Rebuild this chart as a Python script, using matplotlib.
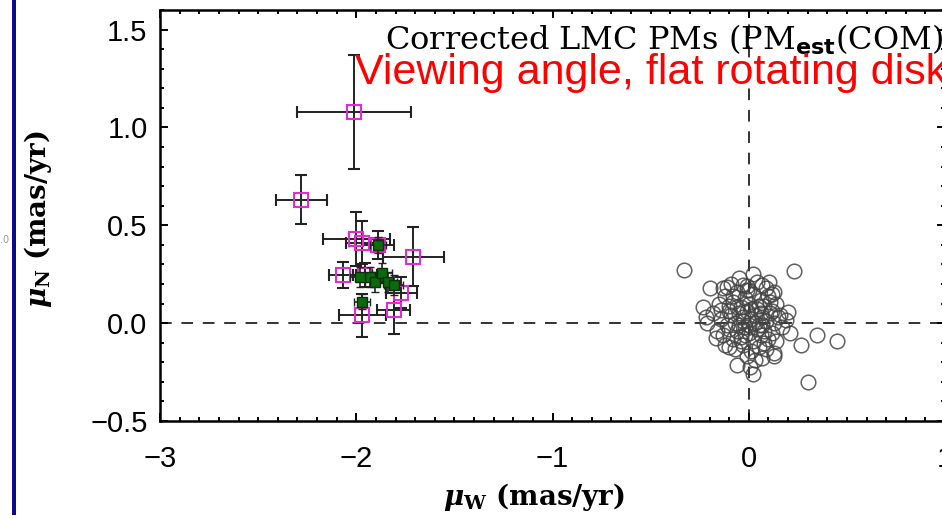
import matplotlib
matplotlib.use("Agg")
import matplotlib.pyplot as plt
from matplotlib.patches import Rectangle
from matplotlib.ticker import MultipleLocator

# Magenta squares: individual field PMs with errors (mas/yr)
fld_mw = [-2.01, -2.28, -2.00, -1.97, -1.89, -1.71, -2.07, -1.955, -1.77, -1.81, -1.97]
fld_mn = [1.08, 0.63, 0.43, 0.41, 0.40, 0.34, 0.245, 0.245, 0.155, 0.065, 0.04]
fld_emw = [0.29, 0.13, 0.17, 0.08, 0.08, 0.155, 0.07, 0.06, 0.08, 0.085, 0.12]
fld_emn = [0.29, 0.125, 0.14, 0.11, 0.07, 0.15, 0.065, 0.06, 0.08, 0.12, 0.11]

# Green squares: second set of fields
grn_mw = [-1.93, -1.905, -1.87, -1.84, -1.81, -1.97, -1.89, -1.98]
grn_mn = [0.235, 0.21, 0.255, 0.21, 0.195, 0.11, 0.40, 0.235]
grn_emw = [0.05, 0.05, 0.05, 0.05, 0.05, 0.04, 0.04, 0.05]
grn_emn = [0.05, 0.05, 0.05, 0.05, 0.05, 0.04, 0.04, 0.05]

# Open circles: viewing-angle residuals of the flat rotating disk model
disk_mw = [
    -0.33, 0.23, -0.20, -0.11, 0.45, 0.35, 0.265, 0.30, -0.06, 0.02, 0.005, 0.13, 0.07,
    -0.235, -0.22, -0.215, -0.165, -0.10, 0.20, 0.19, 0.21, 0.105, 0.07, -0.03, -0.01,
    0.12, -0.14, 0.13,
    -0.15, -0.12, -0.10, -0.08, -0.06, -0.04, -0.02, 0.00, 0.02, 0.04, 0.06, 0.08, 0.10,
    0.12, 0.14, 0.16,
    -0.18, -0.14, -0.11, -0.09, -0.07, -0.05, -0.03, -0.01, 0.01, 0.03, 0.05, 0.07, 0.09,
    0.11, 0.13, 0.15, 0.17,
    -0.16, -0.13, -0.10, -0.08, -0.06, -0.04, -0.02, 0.00, 0.02, 0.04, 0.06, 0.08, 0.10,
    0.12, 0.14,
    -0.12, -0.07, -0.03, 0.01, 0.05, 0.09, -0.01, 0.03,
    -0.13, -0.09, -0.01, 0.04, 0.09, 0.13, -0.05, 0.02,
    -0.03, 0.00, 0.03, -0.06, 0.05, -0.02, 0.07, -0.10, 0.11, -0.05, 0.01, 0.06, -0.08,
    0.00, -0.04, 0.08,
]
disk_mn = [
    0.27, 0.265, 0.18, 0.185, -0.09, -0.06, -0.11, -0.30, -0.215, -0.26, -0.225, -0.17, -0.18,
    0.08, 0.03, 0.00, -0.075, -0.12, 0.055, 0.015, -0.05, 0.21, 0.195, 0.195, 0.17,
    0.15, 0.065, -0.15,
    0.10, 0.14, 0.06, 0.11, 0.16, 0.08, 0.13, 0.10, 0.15, 0.07, 0.12, 0.09, 0.14,
    0.06, 0.10, 0.04,
    0.05, 0.02, -0.01, 0.04, 0.00, 0.05, 0.01, 0.06, 0.02, 0.04, -0.01, 0.03, 0.01,
    0.05, 0.00, 0.03, -0.02,
    -0.04, -0.06, -0.03, -0.08, -0.04, -0.07, -0.02, -0.05, -0.09, -0.03, -0.06, -0.04, -0.08,
    -0.05, -0.09,
    -0.11, -0.13, -0.11, -0.14, -0.12, -0.13, -0.17, -0.19,
    0.18, 0.20, 0.19, 0.21, 0.18, 0.16, 0.23, 0.25,
    0.03, -0.01, 0.00, 0.08, 0.09, -0.06, -0.01, 0.09, 0.11, -0.01, 0.07, 0.05, 0.14,
    0.17, -0.09, -0.10,
]

x_ticks = [-3, -2, -1, 0, 1]
y_ticks = [-0.5, 0.0, 0.5, 1.0, 1.5]

plt.rcParams["mathtext.fontset"] = "custom"
plt.rcParams["mathtext.it"] = "DejaVu Serif:italic:bold"
plt.rcParams["mathtext.rm"] = "DejaVu Serif:bold"
plt.rcParams["mathtext.bf"] = "DejaVu Serif:bold"
plt.rcParams["mathtext.sf"] = "DejaVu Sans:bold"

W, H = 942, 518
fig = plt.figure(figsize=(W / 100, H / 100), dpi=100)
fig.patch.set_facecolor("white")

# slide border stripe on the left
fig.add_artist(Rectangle((12 / W, 3 / H), 4 / W, 515 / H, transform=fig.transFigure,
                         facecolor="#0b0b8c", edgecolor="none"))
fig.text(0.0, 1 - 240 / H, ".0", fontsize=7, color="#999999", va="center", ha="left")

ax = fig.add_axes([160 / W, 1 - 421 / H, 785 / W, 411 / H])
ax.set_xlim(-3, 1)
ax.set_ylim(-0.5, 1.6)

ax.axhline(0, color="#333333", lw=1.4, ls=(0, (6, 5)), zorder=1)
ax.axvline(0, color="#333333", lw=1.4, ls=(0, (6, 5)), zorder=1)

ax.plot(disk_mw, disk_mn, ls="none", marker="o", ms=10.5, mfc="none",
        mec="#444444", mew=1.1, alpha=0.85, zorder=2)

ax.errorbar(fld_mw, fld_mn, xerr=fld_emw, yerr=fld_emn, fmt="s", ms=9.5,
            mfc="none", mec="#e22bd0", mew=1.5, ecolor="#222222", elinewidth=1.4,
            capsize=4, capthick=1.4, zorder=3)
ax.errorbar(grn_mw, grn_mn, xerr=grn_emw, yerr=grn_emn, fmt="s", ms=7,
            mfc="#0b6a0b", mec="#0a300a", mew=1.0, ecolor="#222222", elinewidth=1.2,
            capsize=3, capthick=1.2, zorder=4)

ax.set_xticks(x_ticks)
ax.set_yticks(y_ticks)
ax.set_xticklabels(["\u22123", "\u22122", "\u22121", "0", "1"])
ax.set_yticklabels(["\u22120.5", "0.0", "0.5", "1.0", "1.5"])
ax.xaxis.set_minor_locator(MultipleLocator(0.1))
ax.yaxis.set_minor_locator(MultipleLocator(0.1))
ax.tick_params(which="both", direction="in", top=True, right=True, width=1.4)
ax.tick_params(which="major", length=6)
ax.tick_params(which="minor", length=3)
ax.tick_params(axis="x", pad=17)
ax.tick_params(axis="y", pad=9)
for lab in ax.get_xticklabels() + ax.get_yticklabels():
    lab.set_fontfamily("Liberation Sans")
    lab.set_fontsize(21)
for sp in ax.spines.values():
    sp.set_linewidth(1.8)

fig.text(534 / W, 1 - 497 / H, r"$\mu_{\mathbf{W}}$ (mas/yr)", family="DejaVu Serif",
         fontsize=20, fontweight="bold", ha="center", va="center")
fig.text(38 / W, 1 - 219 / H, r"$\mu_{\mathbf{N}}$ (mas/yr)", family="DejaVu Serif",
         fontsize=20, fontweight="bold", ha="center", va="center", rotation=90)

fig.text(385 / W, 1 - 50 / H, r"Corrected LMC PMs (PM$_{\mathsf{est}}$(COM))",
         family="DejaVu Serif", fontsize=23, ha="left", va="baseline")
fig.text(355 / W, 1 - 84 / H, "Viewing angle, flat rotating disk",
         family="Liberation Sans", fontsize=31, color="#ff0000", ha="left", va="baseline")

fig.savefig("out.png", dpi=100, facecolor="white")
